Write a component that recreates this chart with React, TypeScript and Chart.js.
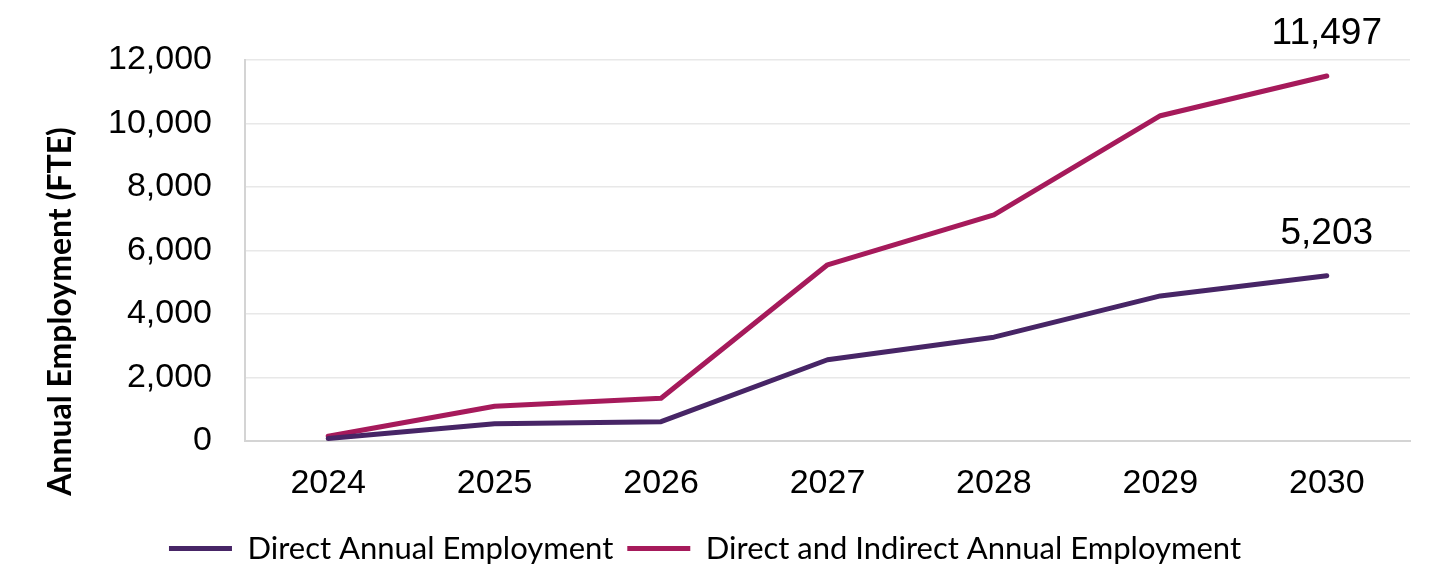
import React, { useEffect, useRef } from "react";
import { Chart, registerables } from "chart.js";

Chart.register(...registerables);

const years = ["2024", "2025", "2026", "2027", "2028", "2029", "2030"];
const directEmployment = [80, 540, 610, 2560, 3270, 4570, 5203];
const totalEmployment = [150, 1095, 1345, 5550, 7125, 10245, 11497];
const seriesNames = ["Direct Annual Employment", "Direct and Indirect Annual Employment"];
const seriesColors = ["#472566", "#A61A5B"];
const yTitle = "Annual Employment (FTE)";
const yMin = 0;
const yMax = 12000;
const yStep = 2000;

const numFont = "'Liberation Sans', Arial, sans-serif";
const labelFont = "Lato, 'Noto Sans', sans-serif";

const endLabelPlugin = {
  id: "endLabels",
  afterDatasetsDraw(chart: any) {
    const ctx = chart.ctx;
    ctx.save();
    ctx.font = `37px ${numFont}`;
    ctx.fillStyle = "#000";
    ctx.textAlign = "center";
    ctx.textBaseline = "middle";
    chart.data.datasets.forEach((ds: any, i: number) => {
      const meta = chart.getDatasetMeta(i);
      const last = meta.data.length - 1;
      const pt = meta.data[last];
      const v = ds.data[last] as number;
      ctx.fillText(v.toLocaleString("en-US"), pt.x, pt.y - 42);
    });
    ctx.restore();
  },
};

const yTitlePlugin = {
  id: "yTitleCustom",
  afterDraw(chart: any) {
    const ctx = chart.ctx;
    const area = chart.chartArea;
    ctx.save();
    ctx.translate(61, (area.top + area.bottom) / 2 + 61);
    ctx.rotate(-Math.PI / 2);
    ctx.font = `bold 32px ${labelFont}`;
    ctx.fillStyle = "#000";
    ctx.textAlign = "center";
    ctx.textBaseline = "middle";
    ctx.fillText(yTitle, 0, 0);
    ctx.restore();
  },
};

export default function App() {
  const ref = useRef<HTMLCanvasElement | null>(null);

  useEffect(() => {
    if (!ref.current) return;
    const chart = new Chart(ref.current, {
      type: "line",
      data: {
        labels: years,
        datasets: [
          {
            label: seriesNames[0],
            data: directEmployment,
            borderColor: seriesColors[0],
            backgroundColor: seriesColors[0],
            borderWidth: 5,
            pointRadius: 0,
            tension: 0,
            borderCapStyle: "round",
            borderJoinStyle: "round",
          },
          {
            label: seriesNames[1],
            data: totalEmployment,
            borderColor: seriesColors[1],
            backgroundColor: seriesColors[1],
            borderWidth: 5,
            pointRadius: 0,
            tension: 0,
            borderCapStyle: "round",
            borderJoinStyle: "round",
          },
        ],
      },
      options: {
        animation: false,
        responsive: false,
        maintainAspectRatio: false,
        layout: { padding: { top: 60, right: 24, left: 0, bottom: -6 } },
        plugins: {
          legend: {
            position: "bottom",
            labels: {
              usePointStyle: true,
              pointStyle: "line",
              pointStyleWidth: 63,
              padding: 14,
              color: "#000",
              font: { family: labelFont, size: 31 },
            },
          },
          tooltip: { enabled: false },
        },
        scales: {
          x: {
            offset: true,
            grid: { display: false, drawTicks: false },
            border: { display: true, color: "#d4d4d4", width: 2 },
            ticks: {
              color: "#000",
              padding: 22,
              font: { family: numFont, size: 34 },
            },
            afterFit: (scale: any) => {
              scale.height = 78;
            },
          },
          y: {
            min: yMin,
            max: yMax,
            grid: { color: "#e8e8e8", lineWidth: 1.5, drawTicks: false },
            border: { display: true, color: "#d4d4d4", width: 2 },
            ticks: {
              stepSize: yStep,
              color: "#000",
              padding: 33,
              font: { family: numFont, size: 34 },
              callback: (v: any) => Number(v).toLocaleString("en-US"),
            },
            afterFit: (scale: any) => {
              scale.width = 245;
            },
          },
        },
      },
      plugins: [endLabelPlugin, yTitlePlugin],
    });
    return () => chart.destroy();
  }, []);

  return (
    <div style={{ position: "fixed", left: 0, top: 0, width: 1434, height: 568, background: "#fff" }}>
      <canvas ref={ref} width={1434} height={568} />
    </div>
  );
}
